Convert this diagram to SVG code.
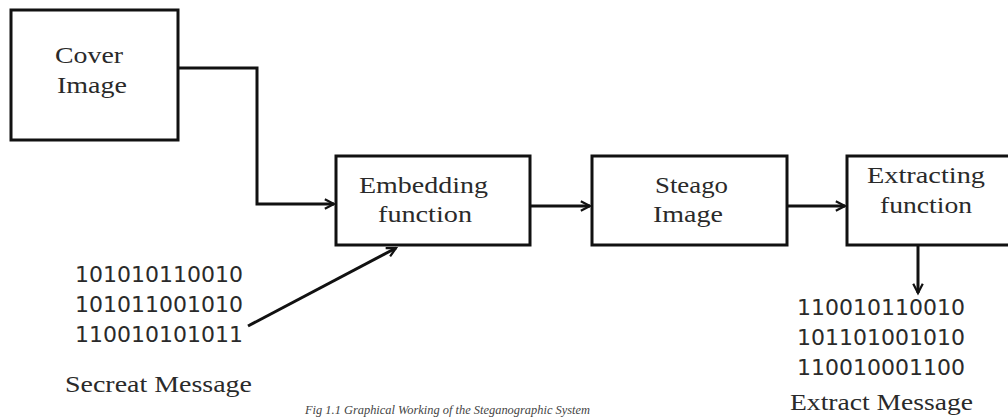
<svg xmlns="http://www.w3.org/2000/svg" width="1008" height="417" viewBox="0 0 1008 417">
<style>
.box{fill:#fff;stroke:#111;stroke-width:3}
.lbl{font-family:"Liberation Serif","Times New Roman",serif;font-size:24px;fill:#2a2a2a}
.bin{font-family:"DejaVu Sans",sans-serif;font-size:21px;fill:#2a2a2a}
.conn{fill:none;stroke:#111;stroke-width:3}
.cap{font-family:"Liberation Serif","Times New Roman",serif;font-size:12px;font-style:italic;fill:#444}
</style>
<defs>
<marker id="arr" viewBox="0 0 12 12" refX="11" refY="6" markerWidth="11" markerHeight="11" markerUnits="userSpaceOnUse" orient="auto" overflow="visible">
<path d="M1,0.8 L11,6 L1,11.2" fill="none" stroke="#111" stroke-width="2.4"/>
</marker>
</defs>
<rect width="1008" height="417" fill="#fff"/>
<g id="cover">
<rect class="box" x="11" y="10" width="167" height="130"/>
<text class="lbl" x="55" y="63" textLength="68" lengthAdjust="spacingAndGlyphs">Cover</text>
<text class="lbl" x="57" y="93" textLength="70" lengthAdjust="spacingAndGlyphs">Image</text>
</g>
<g id="embedding">
<rect class="box" x="336" y="156" width="194" height="89"/>
<text class="lbl" x="359" y="193" textLength="129" lengthAdjust="spacingAndGlyphs">Embedding</text>
<text class="lbl" x="378" y="222" textLength="94" lengthAdjust="spacingAndGlyphs">function</text>
</g>
<g id="stego">
<rect class="box" x="592" y="156" width="195" height="89"/>
<text class="lbl" x="655" y="193" textLength="73" lengthAdjust="spacingAndGlyphs">Steago</text>
<text class="lbl" x="653" y="222" textLength="70" lengthAdjust="spacingAndGlyphs">Image</text>
</g>
<g id="extracting">
<rect class="box" x="847" y="156" width="175" height="89"/>
<text class="lbl" x="867" y="183" textLength="118" lengthAdjust="spacingAndGlyphs">Extracting</text>
<text class="lbl" x="880" y="213" textLength="92" lengthAdjust="spacingAndGlyphs">function</text>
</g>
<g id="secret">
<text class="bin" x="75" y="282" textLength="168" lengthAdjust="spacingAndGlyphs">101010110010</text>
<text class="bin" x="75" y="312" textLength="168" lengthAdjust="spacingAndGlyphs">101011001010</text>
<text class="bin" x="75" y="342" textLength="168" lengthAdjust="spacingAndGlyphs">110010101011</text>
<text class="lbl" x="65" y="392" textLength="187" lengthAdjust="spacingAndGlyphs">Secreat Message</text>
</g>
<g id="extracted">
<text class="bin" x="797" y="315" textLength="168" lengthAdjust="spacingAndGlyphs">110010110010</text>
<text class="bin" x="797" y="345" textLength="168" lengthAdjust="spacingAndGlyphs">101101001010</text>
<text class="bin" x="797" y="375" textLength="168" lengthAdjust="spacingAndGlyphs">110010001100</text>
<text class="lbl" x="790" y="410" textLength="183" lengthAdjust="spacingAndGlyphs">Extract Message</text>
</g>
<g id="connectors">
<path class="conn" d="M178,68 H257 V204 H334" marker-end="url(#arr)"/>
<path class="conn" d="M248,326 L396,248" marker-end="url(#arr)"/>
<path class="conn" d="M530,206 H590" marker-end="url(#arr)"/>
<path class="conn" d="M787,206 H845" marker-end="url(#arr)"/>
<path class="conn" d="M918,245 V293" marker-end="url(#arr)"/>
</g>
<text class="cap" x="305" y="414" textLength="285" lengthAdjust="spacingAndGlyphs">Fig 1.1 Graphical Working of the Steganographic System</text>
</svg>
